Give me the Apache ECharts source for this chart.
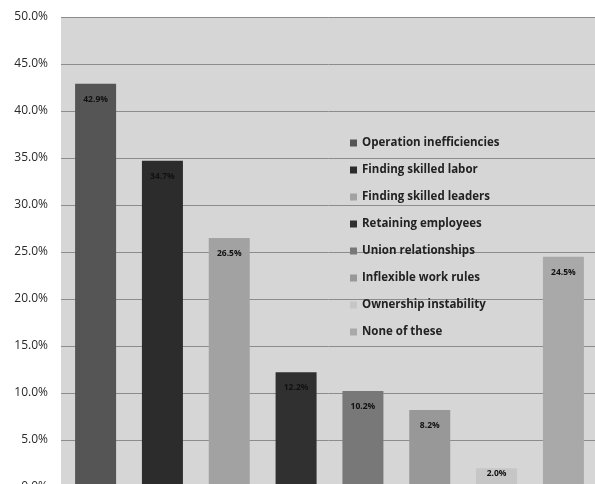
<!DOCTYPE html>
<html>
<head>
<meta charset="utf-8">
<script src="https://cdn.jsdelivr.net/npm/echarts@6/dist/echarts.min.js"></script>
<style>
html,body{margin:0;padding:0;background:#fff;}
#c{width:595px;height:484px;}
</style>
</head>
<body>
<div id="c"></div>
<script>
var categories = ['All'];
var seriesNames = ['Operation inefficiencies','Finding skilled labor','Finding skilled leaders','Retaining employees','Union relationships','Inflexible work rules','Ownership instability','None of these'];
var seriesValues = [42.9, 34.7, 26.5, 12.2, 10.2, 8.2, 2.0, 24.5];
var yTicks = [0, 5, 10, 15, 20, 25, 30, 35, 40, 45, 50];
var colors = ['#555555','#2c2c2c','#a2a2a2','#303030','#787878','#989898','#c6c6c6','#a9a9a9'];

var chart = echarts.init(document.getElementById('c'));
var series = seriesNames.map(function(n, i){
  return {
    name: n,
    type: 'bar',
    data: [seriesValues[i]],
    barWidth: 41,
    barGap: '63%',
    itemStyle: {color: colors[i]},
    label: {
      show: true,
      position: 'insideTop',
      distance: i === 6 ? 1 : 11,
      formatter: function(p){ return p.value.toFixed(1) + '%'; },
      fontFamily: 'Open Sans',
      fontWeight: 'bold',
      fontSize: 8.5,
      color: '#111'
    }
  };
});
chart.setOption({
  animation: false,
  backgroundColor: '#ffffff',
  color: colors,
  grid: {left: 61, right: -3, top: 17, bottom: -3, show: true, backgroundColor: '#d6d6d6', borderWidth: 0, containLabel: false, outerBoundsMode: 'none'},
  legend: {
    orient: 'vertical',
    left: 350,
    top: 135,
    padding: 0,
    itemWidth: 7,
    itemHeight: 7,
    itemGap: 11,
    icon: 'rect',
    textStyle: {fontFamily: 'Open Sans', fontWeight: 'bold', fontSize: 11.5, lineHeight: 16, color: '#222', padding: [0,0,0,0]},
    data: seriesNames
  },
  xAxis: {
    type: 'category',
    data: categories,
    axisLine: {show: false},
    axisTick: {show: false},
    axisLabel: {show: false}
  },
  yAxis: {
    type: 'value',
    min: yTicks[0],
    max: yTicks[yTicks.length - 1],
    interval: 5,
    axisLine: {show: false},
    axisTick: {show: false},
    splitLine: {lineStyle: {color: '#8c8c8c', width: 1}},
    axisLabel: {
      margin: 13,
      fontFamily: 'Open Sans',
      fontSize: 12,
      color: '#2a2a2a',
      formatter: function(v){ return v.toFixed(1) + '%'; }
    }
  },
  series: series
});
</script>
</body>
</html>
